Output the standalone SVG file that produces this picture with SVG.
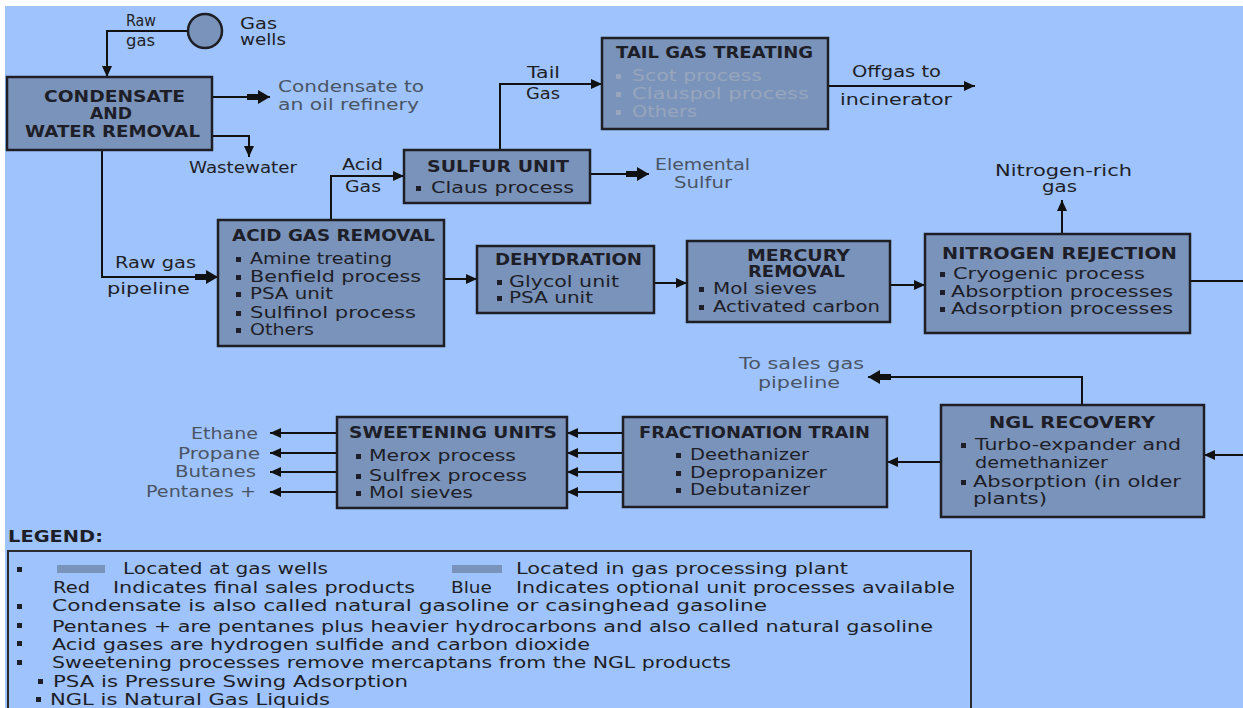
<svg xmlns="http://www.w3.org/2000/svg" width="1243" height="708" viewBox="0 0 1243 708">
<style>
.box{fill:#7a93ba;stroke:#1e1e24;stroke-width:2.5}
.t{font-family:"DejaVu Sans",Verdana,sans-serif;font-size:15px;fill:#1e1e28}
.h{font-weight:bold}
.g{fill:#4a5466}
.lt{fill:#97a6bd}
.ln{stroke:#111;stroke-width:2;fill:none}
.bul{fill:#1e1e28}
.bl{fill:#97a6bd}
</style>
<defs>
<marker id="a" markerUnits="userSpaceOnUse" markerWidth="12" markerHeight="10" refX="11" refY="5" orient="auto"><path d="M0,0 L11,5 L0,10 z" fill="#111"/></marker>
<marker id="b" markerUnits="userSpaceOnUse" markerWidth="24" markerHeight="16" refX="23" refY="8" orient="auto"><path d="M0,5 H11 V1 L23,8 L11,15 V11 H0 z" fill="#111"/></marker>
</defs>
<rect x="0" y="0" width="1243" height="708" fill="#ffffff"/>
<rect x="5" y="6" width="1238" height="702" fill="#9fc4fd"/>

<g id="connectors">
<path class="ln" d="M188,31 H107 V77" marker-end="url(#a)"/>
<path class="ln" d="M212,97 H270" marker-end="url(#b)"/>
<path class="ln" d="M212,136 H249 V157" marker-end="url(#a)"/>
<path class="ln" d="M102,150 V277 H218" marker-end="url(#b)"/>
<path class="ln" d="M331,220 V176 H404" marker-end="url(#a)"/>
<path class="ln" d="M500,150 V84 H602" marker-end="url(#a)"/>
<path class="ln" d="M828,86 H975" marker-end="url(#a)"/>
<path class="ln" d="M590,174 H649" marker-end="url(#b)"/>
<path class="ln" d="M444,279 H477" marker-end="url(#a)"/>
<path class="ln" d="M654,283 H687" marker-end="url(#a)"/>
<path class="ln" d="M890,285 H925" marker-end="url(#a)"/>
<path class="ln" d="M1062,234 V200" marker-end="url(#a)"/>
<path class="ln" d="M1190,281 H1243"/>
<path class="ln" d="M1243,455 H1204" marker-end="url(#a)"/>
<path class="ln" d="M1082,405 V377 H868" marker-end="url(#b)"/>
<path class="ln" d="M941,462 H887" marker-end="url(#a)"/>
<path class="ln" d="M623,433 H567" marker-end="url(#a)"/>
<path class="ln" d="M623,453 H567" marker-end="url(#a)"/>
<path class="ln" d="M623,472 H567" marker-end="url(#a)"/>
<path class="ln" d="M623,492 H567" marker-end="url(#a)"/>
<path class="ln" d="M337,433 H270" marker-end="url(#a)"/>
<path class="ln" d="M337,453 H270" marker-end="url(#a)"/>
<path class="ln" d="M337,472 H270" marker-end="url(#a)"/>
<path class="ln" d="M337,492 H270" marker-end="url(#a)"/>
</g>

<g id="labels">
<text class="t" x="126" y="26" textLength="30" lengthAdjust="spacingAndGlyphs">Raw</text>
<text class="t" x="126" y="46" textLength="29" lengthAdjust="spacingAndGlyphs">gas</text>
<text class="t" x="240" y="29" textLength="37" lengthAdjust="spacingAndGlyphs">Gas</text>
<text class="t" x="240" y="45" textLength="46" lengthAdjust="spacingAndGlyphs">wells</text>
<text class="t g" x="278" y="92" textLength="146" lengthAdjust="spacingAndGlyphs">Condensate to</text>
<text class="t g" x="278" y="110" textLength="141" lengthAdjust="spacingAndGlyphs">an oil refinery</text>
<text class="t" x="189" y="173" textLength="108" lengthAdjust="spacingAndGlyphs">Wastewater</text>
<text class="t" x="342" y="170" textLength="41" lengthAdjust="spacingAndGlyphs">Acid</text>
<text class="t" x="345" y="192" textLength="36" lengthAdjust="spacingAndGlyphs">Gas</text>
<text class="t" x="115" y="268" textLength="81" lengthAdjust="spacingAndGlyphs">Raw gas</text>
<text class="t" x="107" y="294" textLength="83" lengthAdjust="spacingAndGlyphs">pipeline</text>
<text class="t" x="527" y="78" textLength="33" lengthAdjust="spacingAndGlyphs">Tail</text>
<text class="t" x="526" y="99" textLength="34" lengthAdjust="spacingAndGlyphs">Gas</text>
<text class="t" x="852" y="77" textLength="89" lengthAdjust="spacingAndGlyphs">Offgas to</text>
<text class="t" x="840" y="105" textLength="112" lengthAdjust="spacingAndGlyphs">incinerator</text>
<text class="t g" x="655" y="170" textLength="95" lengthAdjust="spacingAndGlyphs">Elemental</text>
<text class="t g" x="674" y="188" textLength="58" lengthAdjust="spacingAndGlyphs">Sulfur</text>
<text class="t" x="995" y="176" textLength="137" lengthAdjust="spacingAndGlyphs">Nitrogen-rich</text>
<text class="t" x="1042" y="192" textLength="35" lengthAdjust="spacingAndGlyphs">gas</text>
<text class="t g" x="739" y="369" textLength="125" lengthAdjust="spacingAndGlyphs">To sales gas</text>
<text class="t g" x="758" y="388" textLength="82" lengthAdjust="spacingAndGlyphs">pipeline</text>
<text class="t g" x="191" y="439" textLength="67" lengthAdjust="spacingAndGlyphs">Ethane</text>
<text class="t g" x="178" y="459" textLength="82" lengthAdjust="spacingAndGlyphs">Propane</text>
<text class="t g" x="175" y="477" textLength="81" lengthAdjust="spacingAndGlyphs">Butanes</text>
<text class="t g" x="146" y="497" textLength="110" lengthAdjust="spacingAndGlyphs">Pentanes +</text>
</g>

<g id="gas-wells">
<circle cx="205" cy="31" r="17" class="box"/>
</g>

<g id="condensate">
<rect class="box" x="7" y="77" width="205" height="73"/>
<text class="t h" x="44" y="102" textLength="141" lengthAdjust="spacingAndGlyphs">CONDENSATE</text>
<text class="t h" x="90" y="119" textLength="42" lengthAdjust="spacingAndGlyphs">AND</text>
<text class="t h" x="25" y="137" textLength="175" lengthAdjust="spacingAndGlyphs">WATER REMOVAL</text>
</g>

<g id="acid-gas-removal">
<rect class="box" x="218" y="220" width="226" height="126"/>
<text class="t h" x="232" y="241" textLength="203" lengthAdjust="spacingAndGlyphs">ACID GAS REMOVAL</text>
<rect class="bul" x="236" y="257" width="5" height="5"/>
<rect class="bul" x="236" y="275" width="5" height="5"/>
<rect class="bul" x="236" y="292" width="5" height="5"/>
<rect class="bul" x="236" y="311" width="5" height="5"/>
<rect class="bul" x="236" y="328" width="5" height="5"/>
<text class="t" x="250" y="264" textLength="142" lengthAdjust="spacingAndGlyphs">Amine treating</text>
<text class="t" x="250" y="282" textLength="171" lengthAdjust="spacingAndGlyphs">Benfield process</text>
<text class="t" x="250" y="299" textLength="83" lengthAdjust="spacingAndGlyphs">PSA unit</text>
<text class="t" x="250" y="318" textLength="166" lengthAdjust="spacingAndGlyphs">Sulfinol process</text>
<text class="t" x="250" y="335" textLength="64" lengthAdjust="spacingAndGlyphs">Others</text>
</g>

<g id="sulfur-unit">
<rect class="box" x="404" y="150" width="186" height="53"/>
<text class="t h" x="427" y="172" textLength="142" lengthAdjust="spacingAndGlyphs">SULFUR UNIT</text>
<rect class="bul" x="416" y="186" width="5" height="5"/>
<text class="t" x="431" y="193" textLength="143" lengthAdjust="spacingAndGlyphs">Claus process</text>
</g>

<g id="tail-gas-treating">
<rect class="box" x="602" y="38" width="226" height="91"/>
<text class="t h" x="616" y="58" textLength="197" lengthAdjust="spacingAndGlyphs">TAIL GAS TREATING</text>
<rect class="bl" x="616" y="74" width="5" height="5"/>
<rect class="bl" x="616" y="92" width="5" height="5"/>
<rect class="bl" x="616" y="110" width="5" height="5"/>
<text class="t lt" x="632" y="81" textLength="130" lengthAdjust="spacingAndGlyphs">Scot process</text>
<text class="t lt" x="632" y="99" textLength="177" lengthAdjust="spacingAndGlyphs">Clauspol process</text>
<text class="t lt" x="632" y="117" textLength="65" lengthAdjust="spacingAndGlyphs">Others</text>
</g>

<g id="dehydration">
<rect class="box" x="477" y="246" width="177" height="67"/>
<text class="t h" x="495" y="265" textLength="147" lengthAdjust="spacingAndGlyphs">DEHYDRATION</text>
<rect class="bul" x="497" y="280" width="5" height="5"/>
<rect class="bul" x="497" y="296" width="5" height="5"/>
<text class="t" x="509" y="287" textLength="110" lengthAdjust="spacingAndGlyphs">Glycol unit</text>
<text class="t" x="509" y="303" textLength="84" lengthAdjust="spacingAndGlyphs">PSA unit</text>
</g>

<g id="mercury-removal">
<rect class="box" x="687" y="241" width="203" height="81"/>
<text class="t h" x="747" y="261" textLength="103" lengthAdjust="spacingAndGlyphs">MERCURY</text>
<text class="t h" x="748" y="277" textLength="97" lengthAdjust="spacingAndGlyphs">REMOVAL</text>
<rect class="bul" x="699" y="287" width="5" height="5"/>
<rect class="bul" x="699" y="305" width="5" height="5"/>
<text class="t" x="713" y="294" textLength="104" lengthAdjust="spacingAndGlyphs">Mol sieves</text>
<text class="t" x="713" y="312" textLength="167" lengthAdjust="spacingAndGlyphs">Activated carbon</text>
</g>

<g id="nitrogen-rejection">
<rect class="box" x="925" y="234" width="265" height="99"/>
<text class="t h" x="942" y="259" textLength="235" lengthAdjust="spacingAndGlyphs">NITROGEN REJECTION</text>
<rect class="bul" x="940" y="272" width="5" height="5"/>
<rect class="bul" x="940" y="290" width="5" height="5"/>
<rect class="bul" x="940" y="307" width="5" height="5"/>
<text class="t" x="953" y="279" textLength="192" lengthAdjust="spacingAndGlyphs">Cryogenic process</text>
<text class="t" x="951" y="297" textLength="222" lengthAdjust="spacingAndGlyphs">Absorption processes</text>
<text class="t" x="951" y="314" textLength="222" lengthAdjust="spacingAndGlyphs">Adsorption processes</text>
</g>

<g id="ngl-recovery">
<rect class="box" x="941" y="405" width="263" height="112"/>
<text class="t h" x="989" y="428" textLength="166" lengthAdjust="spacingAndGlyphs">NGL RECOVERY</text>
<rect class="bul" x="961" y="443" width="5" height="5"/>
<rect class="bul" x="961" y="480" width="5" height="5"/>
<text class="t" x="975" y="450" textLength="206" lengthAdjust="spacingAndGlyphs">Turbo-expander and</text>
<text class="t" x="975" y="468" textLength="133" lengthAdjust="spacingAndGlyphs">demethanizer</text>
<text class="t" x="973" y="487" textLength="208" lengthAdjust="spacingAndGlyphs">Absorption (in older</text>
<text class="t" x="973" y="504" textLength="74" lengthAdjust="spacingAndGlyphs">plants)</text>
</g>

<g id="fractionation-train">
<rect class="box" x="623" y="417" width="264" height="90"/>
<text class="t h" x="639" y="438" textLength="231" lengthAdjust="spacingAndGlyphs">FRACTIONATION TRAIN</text>
<rect class="bul" x="676" y="453" width="5" height="5"/>
<rect class="bul" x="676" y="471" width="5" height="5"/>
<rect class="bul" x="676" y="488" width="5" height="5"/>
<text class="t" x="690" y="460" textLength="119" lengthAdjust="spacingAndGlyphs">Deethanizer</text>
<text class="t" x="690" y="478" textLength="137" lengthAdjust="spacingAndGlyphs">Depropanizer</text>
<text class="t" x="690" y="495" textLength="120" lengthAdjust="spacingAndGlyphs">Debutanizer</text>
</g>

<g id="sweetening-units">
<rect class="box" x="337" y="417" width="230" height="91"/>
<text class="t h" x="349" y="438" textLength="208" lengthAdjust="spacingAndGlyphs">SWEETENING UNITS</text>
<rect class="bul" x="356" y="454" width="5" height="5"/>
<rect class="bul" x="356" y="474" width="5" height="5"/>
<rect class="bul" x="356" y="491" width="5" height="5"/>
<text class="t" x="369" y="461" textLength="147" lengthAdjust="spacingAndGlyphs">Merox process</text>
<text class="t" x="369" y="481" textLength="158" lengthAdjust="spacingAndGlyphs">Sulfrex process</text>
<text class="t" x="369" y="498" textLength="104" lengthAdjust="spacingAndGlyphs">Mol sieves</text>
</g>

<g id="legend">
<text class="t h" x="8" y="542" textLength="95" lengthAdjust="spacingAndGlyphs">LEGEND:</text>
<rect x="8" y="551" width="963" height="170" fill="none" stroke="#2a2a30" stroke-width="2"/>
<rect class="bul" x="17" y="567" width="5" height="5"/>
<rect x="57" y="565" width="48" height="8" fill="#7a93ba"/>
<text class="t" x="123" y="574" textLength="205" lengthAdjust="spacingAndGlyphs">Located at gas wells</text>
<rect x="452" y="565" width="50" height="8" fill="#7a93ba"/>
<text class="t" x="516" y="574" textLength="332" lengthAdjust="spacingAndGlyphs">Located in gas processing plant</text>
<text class="t" x="53" y="593" textLength="37" lengthAdjust="spacingAndGlyphs">Red</text>
<text class="t" x="113" y="593" textLength="302" lengthAdjust="spacingAndGlyphs">Indicates final sales products</text>
<text class="t" x="451" y="593" textLength="41" lengthAdjust="spacingAndGlyphs">Blue</text>
<text class="t" x="516" y="593" textLength="439" lengthAdjust="spacingAndGlyphs">Indicates optional unit processes available</text>
<rect class="bul" x="17" y="604" width="5" height="5"/>
<text class="t" x="52" y="611" textLength="715" lengthAdjust="spacingAndGlyphs">Condensate is also called natural gasoline or casinghead gasoline</text>
<rect class="bul" x="17" y="623" width="5" height="5"/>
<text class="t" x="52" y="632" textLength="881" lengthAdjust="spacingAndGlyphs">Pentanes +  are pentanes plus heavier hydrocarbons and also called natural gasoline</text>
<rect class="bul" x="17" y="641" width="5" height="5"/>
<text class="t" x="52" y="650" textLength="538" lengthAdjust="spacingAndGlyphs">Acid gases are hydrogen sulfide and carbon dioxide</text>
<rect class="bul" x="17" y="660" width="5" height="5"/>
<text class="t" x="52" y="668" textLength="679" lengthAdjust="spacingAndGlyphs">Sweetening processes remove mercaptans from the NGL products</text>
<rect class="bul" x="38" y="679" width="5" height="5"/>
<text class="t" x="53" y="687" textLength="355" lengthAdjust="spacingAndGlyphs">PSA is Pressure Swing Adsorption</text>
<rect class="bul" x="36" y="697" width="5" height="5"/>
<text class="t" x="50" y="705" textLength="280" lengthAdjust="spacingAndGlyphs">NGL is Natural Gas Liquids</text>
</g>
</svg>
